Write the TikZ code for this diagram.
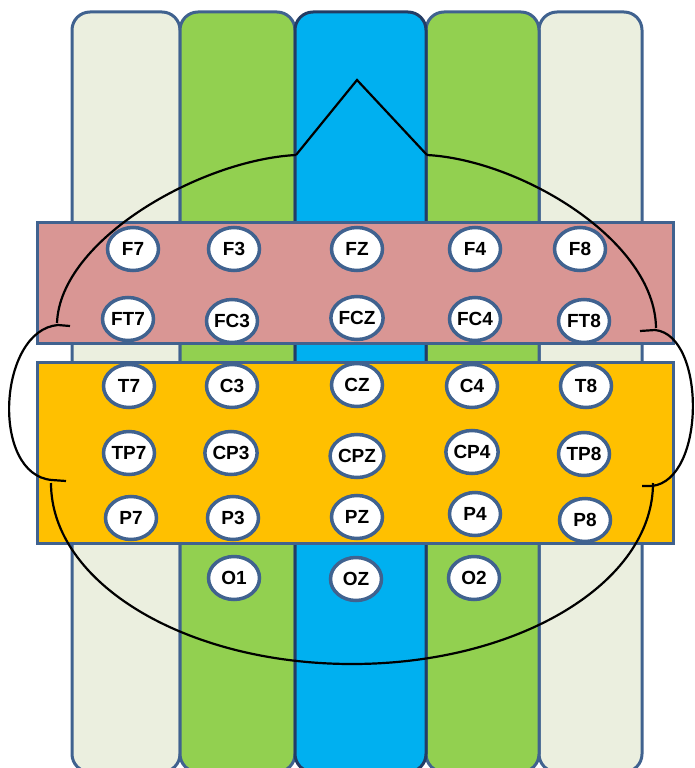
\documentclass[tikz,border=0pt]{standalone}
\usepackage{fontspec}
\setmainfont{Liberation Sans}
\usetikzlibrary{shapes.geometric}
\definecolor{edge}{RGB}{64,98,143}
\definecolor{pale}{RGB}{235,239,223}
\definecolor{grn}{RGB}{146,208,80}
\definecolor{blu}{RGB}{0,176,240}
\definecolor{pnk}{RGB}{217,150,148}
\definecolor{org}{RGB}{255,192,0}
\definecolor{navy}{RGB}{35,60,100}
\begin{document}
\begin{tikzpicture}[x=1pt,y=-1pt,
  col/.style={draw=edge,line width=3pt,rounded corners=18pt},
  band/.style={draw=edge,line width=3pt},
  elec/.style={ellipse,draw=edge,fill=white,line width=3.5pt,minimum width=51pt,minimum height=43pt,inner sep=0pt,font=\fontsize{19}{22}\selectfont\bfseries},
  head/.style={draw=black,line width=2.2pt}]
\useasboundingbox (0,0) rectangle (694,768);
\clip (0,0) rectangle (694,768);
% columns
\path[col,fill=pale] (72,12) rectangle (180,772);
\path[col,fill=pale] (539,12) rectangle (642,772);
\path[col,fill=grn] (180,12) rectangle (295,772);
\path[col,fill=grn] (426,12) rectangle (539,772);
\path[col,fill=blu,draw=navy] (295,12) rectangle (426,772);
% bands
\path[band,fill=pnk] (37,222) rectangle (673,343);
\path[band,fill=org] (37,362) rectangle (673,543);
% electrodes
\node[elec] (F7) at (133,249) {F7};
\node[elec] (F3) at (234,249) {F3};
\node[elec] (FZ) at (357,249) {FZ};
\node[elec] (F4) at (475,249) {F4};
\node[elec] (F8) at (580,249) {F8};
\node[elec] (FT7) at (128,319) {FT7};
\node[elec] (FC3) at (232,321) {FC3};
\node[elec] (FCZ) at (357,318) {FCZ};
\node[elec] (FC4) at (475,319) {FC4};
\node[elec] (FT8) at (584,321) {FT8};
\node[elec] (T7) at (129,386) {T7};
\node[elec] (C3) at (232,386) {C3};
\node[elec] (CZ) at (357,385) {CZ};
\node[elec] (C4) at (472,386) {C4};
\node[elec] (T8) at (586,386) {T8};
\node[elec] (TP7) at (129,453) {TP7};
\node[elec] (CP3) at (231,453) {CP3};
\node[elec] (CPZ) at (357,456) {CPZ};
\node[elec] (CP4) at (472,452) {CP4};
\node[elec] (TP8) at (584,454) {TP8};
\node[elec] (P7) at (131,518) {P7};
\node[elec] (P3) at (233,518) {P3};
\node[elec] (PZ) at (357,517) {PZ};
\node[elec] (P4) at (475,514) {P4};
\node[elec] (P8) at (585,520) {P8};
\node[elec] (O1) at (234,578) {O1};
\node[elec] (OZ) at (356,579) {OZ};
\node[elec] (O2) at (474,578) {O2};
% head outline
\draw[head] (296,155) -- (357,80) -- (427,155);
\draw[head] (296,155) .. controls (200,160) and (60,240) .. (57,323);
\draw[head] (427,155) .. controls (520,160) and (655,240) .. (656,328);
\draw[head] (70,326) -- (58,325) .. controls (-2,330) and (-10,475) .. (52,480) -- (66,481);
\draw[head] (640,331) -- (655,330) .. controls (706,335) and (706,480) .. (652,486) -- (642,486);
\draw[head] (51,483) arc[start angle=180,end angle=0,x radius=301,y radius=181];
\end{tikzpicture}
\end{document}
